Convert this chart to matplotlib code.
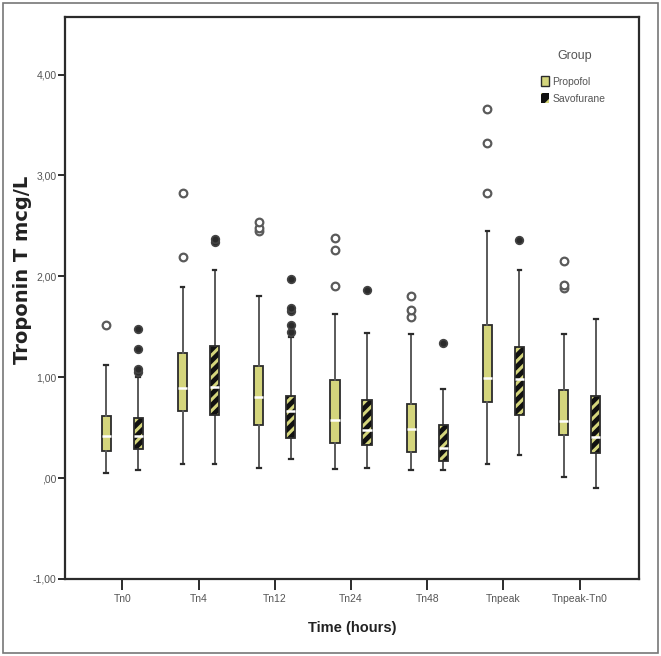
"""Troponin T by time point: Propofol vs Savofurane box plots (SPSS-style)."""
import matplotlib
matplotlib.use("Agg")
import matplotlib.pyplot as plt
from matplotlib.patches import Patch, PathPatch, Rectangle

plt.rcParams["font.family"] = ["Liberation Sans", "DejaVu Sans"]
plt.rcParams["hatch.linewidth"] = 2.2

categories = ["Tn0", "Tn4", "Tn12", "Tn24", "Tn48", "Tnpeak", "Tnpeak-Tn0"]
yticks = [-1, 0, 1, 2, 3, 4]
ytick_labels = ["-1,00", ",00", "1,00", "2,00", "3,00", "4,00"]

# Propofol
prop_q1 = [0.27, 0.66, 0.53, 0.35, 0.26, 0.75, 0.43]
prop_med = [0.42, 0.89, 0.80, 0.58, 0.49, 0.99, 0.57]
prop_q3 = [0.62, 1.24, 1.11, 0.97, 0.73, 1.52, 0.87]
prop_lo = [0.05, 0.14, 0.10, 0.09, 0.08, 0.14, 0.01]
prop_hi = [1.12, 1.89, 1.80, 1.63, 1.43, 2.45, 1.43]
prop_fliers = [[1.52], [2.19, 2.83], [2.45, 2.48, 2.54], [1.90, 2.26, 2.38],
               [1.60, 1.67, 1.80], [2.83, 3.32, 3.66], [1.88, 1.91, 2.15]]

# Savofurane
savo_q1 = [0.29, 0.63, 0.40, 0.33, 0.17, 0.63, 0.25]
savo_med = [0.42, 0.90, 0.66, 0.48, 0.30, 0.98, 0.41]
savo_q3 = [0.60, 1.31, 0.81, 0.77, 0.53, 1.30, 0.81]
savo_lo = [0.08, 0.14, 0.19, 0.10, 0.08, 0.23, -0.10]
savo_hi = [1.00, 2.06, 1.40, 1.44, 0.88, 2.06, 1.58]
savo_fliers = [[1.05, 1.08, 1.28, 1.48], [2.34, 2.37], [1.45, 1.52, 1.66, 1.69, 1.97],
               [1.86], [1.34], [2.36], []]

YELLOW = "#d4d57c"
DARK = "#2b2b2b"
GREY = "#5a5a5a"


def stats(q1, med, q3, lo, hi, fl):
    return [dict(q1=a, med=b, q3=c, whislo=d, whishi=e, fliers=f)
            for a, b, c, d, e, f in zip(q1, med, q3, lo, hi, fl)]


fig = plt.figure(figsize=(6.61, 6.56), dpi=100)
ax = fig.add_axes([0.0985, 0.1174, 0.8685, 0.8567])

off, w = 0.21, 0.12
pos_p = [i - off for i in range(len(categories))]
pos_s = [i + off for i in range(len(categories))]

common = dict(widths=w, patch_artist=True, showfliers=True, capwidths=0.05,
              whiskerprops=dict(color=GREY, lw=1.4),
              capprops=dict(color=DARK, lw=1.6),
              medianprops=dict(color="white", lw=1.8))

bp = ax.bxp(stats(prop_q1, prop_med, prop_q3, prop_lo, prop_hi, prop_fliers),
            positions=pos_p,
            boxprops=dict(facecolor=YELLOW, edgecolor=DARK, lw=1.3),
            flierprops=dict(marker="o", markersize=5.5, markerfacecolor="white",
                            markeredgecolor=GREY, markeredgewidth=1.6),
            **common)

bs = ax.bxp(stats(savo_q1, savo_med, savo_q3, savo_lo, savo_hi, savo_fliers),
            positions=pos_s,
            boxprops=dict(facecolor="#111111", edgecolor=YELLOW, lw=0, hatch="///"),
            flierprops=dict(marker="o", markersize=5.5, markerfacecolor=DARK,
                            markeredgecolor="#444444", markeredgewidth=1.2),
            **common)
for box in bs["boxes"]:
    ax.add_patch(PathPatch(box.get_path(), fill=False, edgecolor=DARK, lw=1.3,
                           zorder=box.get_zorder() + 0.1))
for m in bs["medians"]:
    m.set_zorder(5)

ax.set_xlim(-0.75, 6.78)
ax.set_ylim(-1.0, 4.57)
ax.set_xticks(range(len(categories)))
ax.set_xticklabels(categories)
ax.set_yticks(yticks)
ax.set_yticklabels(ytick_labels)
ax.tick_params(axis="y", direction="out", length=5, width=1.4, color=DARK,
               labelsize=7.5, labelcolor="#555555", pad=1)
ax.tick_params(axis="x", direction="out", length=8, width=1.4, color=DARK,
               labelsize=7.5, labelcolor="#555555", pad=3)
for s in ax.spines.values():
    s.set_color(DARK)
    s.set_linewidth(1.6)

ax.set_xlabel("Time (hours)", fontsize=10.5, fontweight="bold", color="#222222")
ax.xaxis.set_label_coords(0.5, -0.075)
ax.set_ylabel("Troponin T mcg/L", fontsize=14, fontweight="bold", color="#222222",
              family="DejaVu Sans")
ax.yaxis.set_label_coords(-0.057, 0.55)

fig.text(575 / 661, 1 - 56 / 656, "Group", ha="center", va="center",
         fontsize=9, color="#555555")
handles = [Patch(facecolor=YELLOW, edgecolor=DARK, lw=1.0, label="Propofol"),
           Patch(facecolor="#111111", edgecolor=YELLOW, hatch="//", lw=0, label="Savofurane")]
leg = ax.legend(handles=handles, loc="upper left",
                bbox_to_anchor=(541 / 661, 1 - 76 / 656), bbox_transform=fig.transFigure,
                frameon=False, fontsize=7.5, borderpad=0, borderaxespad=0,
                handlelength=0.8, handleheight=1.1, handletextpad=0.3, labelspacing=0.65)
for t in leg.get_texts():
    t.set_color("#555555")

fig.add_artist(Rectangle((0.004, 0.004), 0.992, 0.991, transform=fig.transFigure,
                         fill=False, edgecolor="#777777", lw=1.2))

fig.savefig("out.png", dpi=100)
